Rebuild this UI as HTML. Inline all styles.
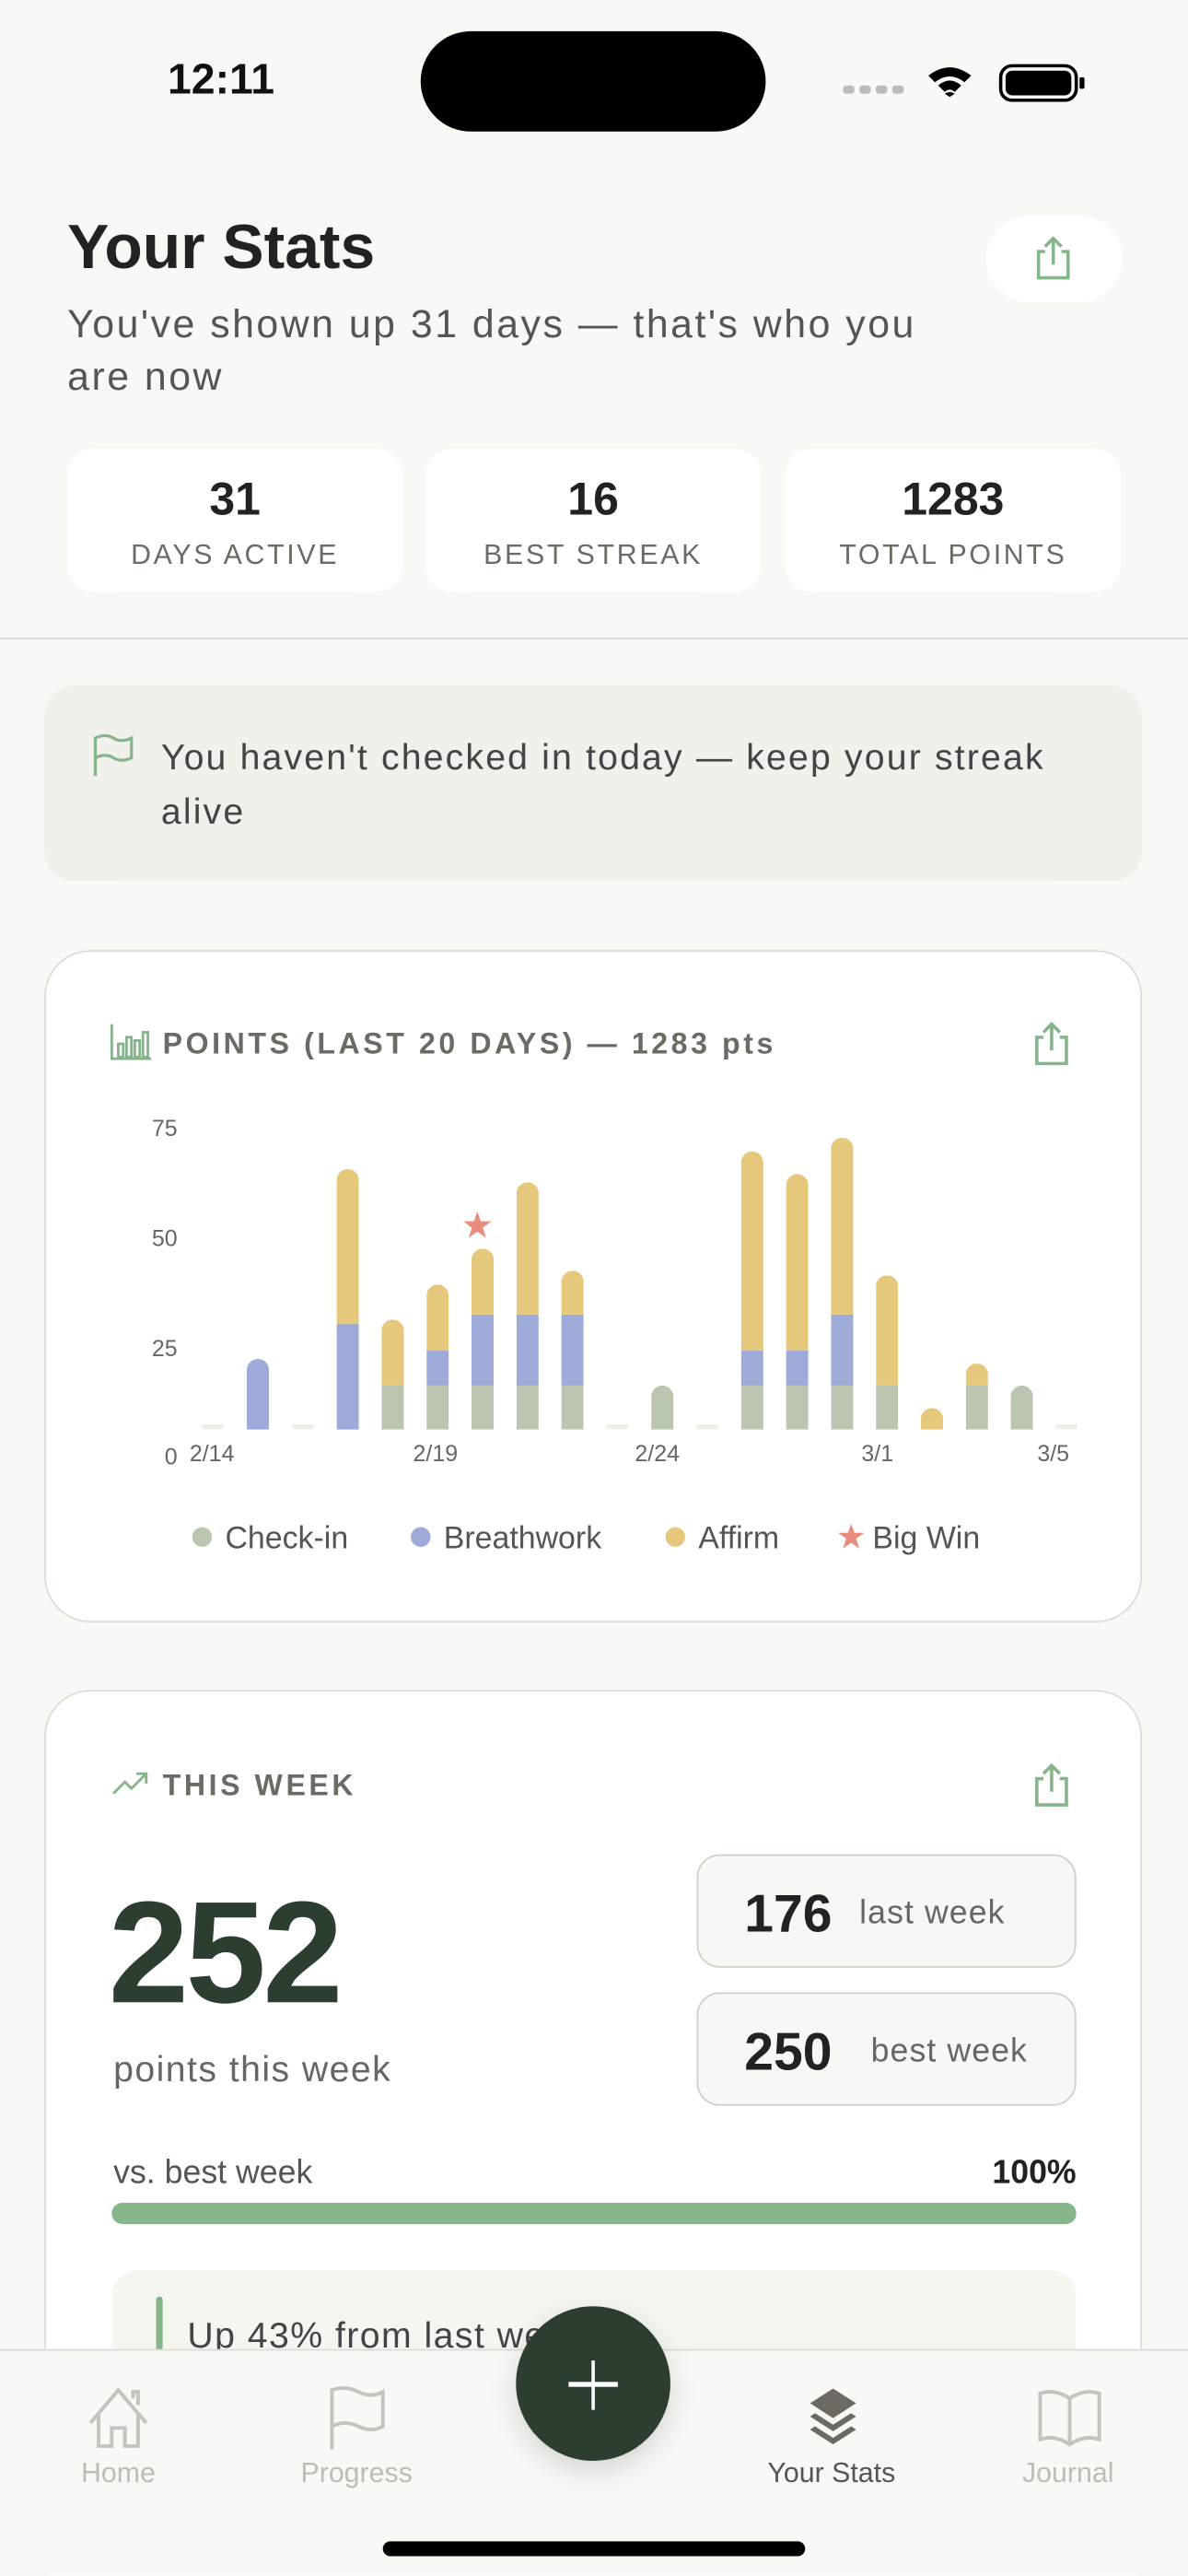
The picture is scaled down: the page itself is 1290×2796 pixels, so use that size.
<!DOCTYPE html>
<html><head><meta charset="utf-8"><style>
html,body{margin:0;padding:0;background:#f8f8f4;width:1290px;height:2796px;overflow:hidden;}
body{position:relative;}
#w{position:absolute;left:0;top:0;width:723px;height:1567px;overflow:hidden;transform:scale(1.78423);transform-origin:0 0;font-family:"Liberation Sans",sans-serif;color:#222;}
.a{position:absolute;white-space:nowrap;}
.card{position:absolute;background:#fff;}
.num{font-weight:bold;font-size:28px;line-height:28px;text-align:center;width:100%;top:17px;color:#222;}
.lbl{font-size:17px;line-height:17px;letter-spacing:1.5px;text-align:center;width:100%;top:56px;color:#6b6b63;}
</style></head><body><div id="w">
<!-- status bar -->
<div class="a" style="left:102px;top:35px;font-size:26px;line-height:26px;font-weight:bold;color:#111">12:11</div>
<div class="a" style="left:256px;top:19px;width:210px;height:61px;border-radius:31px;background:#000"></div>
<svg class="a" style="left:510px;top:36px" width="155" height="26" viewBox="0 0 155 26">
<g fill="#bbb"><rect x="3" y="16" width="7" height="5" rx="2"/><rect x="13" y="16" width="7" height="5" rx="2"/><rect x="23" y="16" width="7" height="5" rx="2"/><rect x="33" y="16" width="7" height="5" rx="2"/></g>
<path d="M55 10 Q68 0 81 10 L77 14 Q68 7 59 14Z M61 16 Q68 10 75 16 L71 20 Q68 17 65 20Z M68 23 L65 21 Q68 19 71 21Z" fill="#000"/>
<rect x="99" y="4" width="46" height="21" rx="7" fill="none" stroke="#000" stroke-width="2"/><rect x="102" y="7" width="40" height="15" rx="4" fill="#000"/><rect x="147" y="11" width="3" height="7" rx="1" fill="#000"/>
</svg>
<!-- header -->
<div class="a" style="left:41px;top:131px;font-size:38px;line-height:40px;font-weight:bold;color:#222">Your Stats</div>
<div class="a" style="left:41px;top:182px;font-size:24px;line-height:32px;letter-spacing:1.4px;color:#555;white-space:normal;width:525px">You've shown up 31 days — that's who you are now</div>
<div class="card" style="left:600px;top:131px;width:83px;height:53px;border-radius:27px"></div>
<svg class="a" style="left:628px;top:142px" width="26" height="30" viewBox="0 0 26 30"><g fill="none" stroke="#86b48b" stroke-width="2"><path d="M8 11 H4 V27 H22 V11 H18"/><path d="M13 3 V19 M8 8 L13 3 L18 8"/></g></svg>
<div class="card" style="left:41px;top:273px;width:204px;height:87px;border-radius:16px"><div class="a num">31</div><div class="a lbl">DAYS ACTIVE</div></div>
<div class="card" style="left:259px;top:273px;width:204px;height:87px;border-radius:16px"><div class="a num">16</div><div class="a lbl">BEST STREAK</div></div>
<div class="card" style="left:478px;top:273px;width:204px;height:87px;border-radius:16px"><div class="a num">1283</div><div class="a lbl">TOTAL POINTS</div></div>
<div class="a" style="left:0;top:388px;width:723px;height:1px;background:#dcdcd6"></div>
<!-- banner -->
<div class="a" style="left:27px;top:417px;width:668px;height:119px;border-radius:18px;background:#eff1ea"></div>
<svg class="a" style="left:55px;top:446px" width="28" height="28" viewBox="0 0 28 28"><path d="M3 26 V3 Q9 0 14 3 Q19 6 25 3 V15 Q19 18 14 15 Q9 12 3 15" fill="none" stroke="#86b48b" stroke-width="1.8"/></svg>
<div class="a" style="left:98px;top:444px;font-size:22px;line-height:33px;letter-spacing:1.2px;color:#444;white-space:normal;width:540px">You haven't checked in today — keep your streak alive</div>
<!-- chart card -->
<div class="card" style="left:27px;top:578px;width:666px;height:407px;border-radius:28px;border:1px solid #dcdcd6"></div>
<svg class="a" style="left:67px;top:622px" width="26" height="24" viewBox="0 0 26 24"><g fill="none" stroke="#86b48b" stroke-width="1.6"><path d="M1 1 V22 H25"/><rect x="5" y="13" width="3" height="8"/><rect x="10" y="9" width="3" height="12"/><rect x="15" y="11" width="3" height="10"/><rect x="20" y="6" width="3" height="15"/></g></svg>
<div class="a" style="left:99px;top:625px;font-size:18px;line-height:20px;letter-spacing:2px;color:#6b6b63;font-weight:bold">POINTS (LAST 20 DAYS) — 1283 pts</div>
<svg class="a" style="left:627px;top:620px" width="26" height="30" viewBox="0 0 26 30"><g fill="none" stroke="#86b48b" stroke-width="2"><path d="M8 11 H4 V27 H22 V11 H18"/><path d="M13 3 V19 M8 8 L13 3 L18 8"/></g></svg>
<svg class="a" style="left:0;top:0" width="723" height="1000" viewBox="0 0 723 1000">
<g font-family="Liberation Sans,sans-serif" font-size="14" fill="#666">
<text x="108" y="691" text-anchor="end">75</text><text x="108" y="758" text-anchor="end">50</text><text x="108" y="825" text-anchor="end">25</text><text x="108" y="891" text-anchor="end">0</text>
<text x="129" y="889" text-anchor="middle">2/14</text><text x="265" y="889" text-anchor="middle">2/19</text><text x="400" y="889" text-anchor="middle">2/24</text><text x="534" y="889" text-anchor="middle">3/1</text><text x="641" y="889" text-anchor="middle">3/5</text>
</g>
<g id="bars"></g>
<path d="M290.5 737 L292.6 743 L299 743 L293.8 746.8 L295.8 753 L290.5 749.2 L285.2 753 L287.2 746.8 L282 743 L288.4 743Z" fill="#e98c7c"/>
<g font-family="Liberation Sans,sans-serif" font-size="19" fill="#555">
<circle cx="123" cy="935" r="6" fill="#bcc5af"/><text x="137" y="942">Check-in</text>
<circle cx="256" cy="935" r="6" fill="#9eaad8"/><text x="270" y="942">Breathwork</text>
<circle cx="411" cy="935" r="6" fill="#e5c87c"/><text x="425" y="942">Affirm</text>
<path d="M518 927 L520 932.5 L526 932.5 L521 936 L523 942 L518 938.5 L513 942 L515 936 L510 932.5 L516 932.5Z" fill="#e98c7c"/><text x="531" y="942">Big Win</text>
</g>
</svg>
<!-- week card -->
<div class="card" style="left:27px;top:1028px;width:666px;height:600px;border-radius:28px;border:1px solid #dcdcd6"></div>
<svg class="a" style="left:68px;top:1076px" width="24" height="18" viewBox="0 0 24 18"><path d="M1 15 L8 8 L12 12 L21 3 M15 3 H21 V9" fill="none" stroke="#86b48b" stroke-width="1.6"/></svg>
<div class="a" style="left:99px;top:1076px;font-size:18px;line-height:20px;letter-spacing:2px;color:#6b6b63;font-weight:bold">THIS WEEK</div>
<svg class="a" style="left:627px;top:1071px" width="26" height="30" viewBox="0 0 26 30"><g fill="none" stroke="#86b48b" stroke-width="2"><path d="M8 11 H4 V27 H22 V11 H18"/><path d="M13 3 V19 M8 8 L13 3 L18 8"/></g></svg>
<div class="a" style="left:66px;top:1143px;font-size:88px;line-height:90px;font-weight:bold;color:#2c3e2f;letter-spacing:-2px">252</div>
<div class="a" style="left:69px;top:1247px;font-size:22px;line-height:24px;letter-spacing:0.8px;color:#666">points this week</div>
<div class="a" style="left:424px;top:1128px;width:229px;height:67px;border-radius:14px;background:#f7f7f3;border:1.5px solid #d0d0c8"></div>
<div class="a" style="left:453px;top:1147px;font-size:32px;line-height:34px;font-weight:bold;color:#222">176</div>
<div class="a" style="left:523px;top:1153px;font-size:20px;line-height:22px;letter-spacing:0.6px;color:#666">last week</div>
<div class="a" style="left:424px;top:1212px;width:229px;height:67px;border-radius:14px;background:#f7f7f3;border:1.5px solid #d0d0c8"></div>
<div class="a" style="left:453px;top:1231px;font-size:32px;line-height:34px;font-weight:bold;color:#222">250</div>
<div class="a" style="left:530px;top:1237px;font-size:20px;line-height:22px;letter-spacing:0.6px;color:#666">best week</div>
<div class="a" style="left:69px;top:1311px;font-size:20px;line-height:22px;color:#555">vs. best week</div>
<div class="a" style="left:560px;top:1311px;width:95px;text-align:right;font-size:20px;line-height:22px;color:#222;font-weight:bold">100%</div>
<div class="a" style="left:68px;top:1340px;width:587px;height:13px;border-radius:7px;background:#88b68b"></div>
<div class="a" style="left:68px;top:1381px;width:587px;height:120px;border-radius:16px;background:#f6f6f1"></div>
<div class="a" style="left:95px;top:1397px;width:4px;height:60px;border-radius:2px;background:#86b48b"></div>
<div class="a" style="left:114px;top:1409px;font-size:22px;line-height:24px;letter-spacing:0.8px;color:#444">Up 43% from last week</div>
<!-- tab bar -->
<div class="a" style="left:0;top:1429px;width:723px;height:138px;background:#f8f8f4;border-top:1px solid #dcdcd6"></div>
<div class="a" style="left:314px;top:1403px;width:94px;height:94px;border-radius:50%;background:#2c3e2f;box-shadow:0 6px 18px rgba(0,0,0,0.15)"></div>
<div class="a" style="left:346px;top:1449px;width:30px;height:2.5px;background:#fff"></div>
<div class="a" style="left:359.75px;top:1436px;width:2.5px;height:30px;background:#fff"></div>
<svg class="a" style="left:50px;top:1450px" width="44" height="40" viewBox="0 0 44 40"><path d="M5 24 L22 4 L39 24 M10 19 V38 H18 V27 H26 V38 H34 V19 M31 9 V5 H34 V13" fill="none" stroke="#c4c4be" stroke-width="2.2"/></svg>
<svg class="a" style="left:198px;top:1451px" width="40" height="40" viewBox="0 0 40 40"><path d="M4 39 V3 Q12 0 20 4 Q28 8 35 4 V25 Q28 29 20 25 Q12 21 4 25" fill="none" stroke="#c4c4be" stroke-width="2.2"/></svg>
<svg class="a" style="left:487px;top:1451px" width="40" height="40" viewBox="0 0 40 40"><g fill="#6b6b63"><path d="M20 2 L34 11 L20 20 L6 11Z"/><path d="M6 19 L9 17 L20 24 L31 17 L34 19 L20 28Z"/><path d="M6 27 L9 25 L20 32 L31 25 L34 27 L20 36Z"/></g></svg>
<svg class="a" style="left:630px;top:1451px" width="42" height="40" viewBox="0 0 42 40"><path d="M21 8 Q12 2 3 5 V33 Q12 30 21 36 Q30 30 39 33 V5 Q30 2 21 8 V36" fill="none" stroke="#c4c4be" stroke-width="2.2"/></svg>
<div class="a" style="left:22px;top:1496px;width:100px;text-align:center;font-size:17px;line-height:18px;color:#bdbdb6">Home</div>
<div class="a" style="left:167px;top:1496px;width:100px;text-align:center;font-size:17px;line-height:18px;color:#bdbdb6">Progress</div>
<div class="a" style="left:446px;top:1496px;width:120px;text-align:center;font-size:17px;line-height:18px;color:#555">Your Stats</div>
<div class="a" style="left:600px;top:1496px;width:100px;text-align:center;font-size:17px;line-height:18px;color:#bdbdb6">Journal</div>
<div class="a" style="left:233px;top:1546px;width:257px;height:9px;border-radius:5px;background:#000"></div>
</div>
<script>
(function(){
var G='#bcc5af',B='#9eaad8',Y='#e5c87c',base=869.6,gt=842.9;
var d=[null,[[B,826.7]],null,[[B,805.2],[Y,711.2]],[[G,gt],[Y,802.7]],[[G,gt],[B,821.6],[Y,781.4]],[[G,gt],[B,799.7],[Y,759.6]],[[G,gt],[B,799.7],[Y,719.2]],[[G,gt],[B,799.7],[Y,773]],null,[[G,gt]],null,[[G,gt],[B,821.6],[Y,700.5]],[[G,gt],[B,821.6],[Y,714.2]],[[G,gt],[B,799.7],[Y,692.1]],[[G,gt],[Y,775.8]],[[Y,856.5]],[[G,gt],[Y,829.5]],[[G,gt]],null];
var s='',w=13.5;
for(var i=0;i<20;i++){var cx=129.6+i*27.35,x=cx-w/2;
 if(!d[i]){s+='<rect x="'+x+'" y="866.5" width="'+w+'" height="3" rx="1.5" fill="#efefe8"/>';continue;}
 var segs=d[i],top=segs[segs.length-1][1];
 s+='<clipPath id="k'+i+'"><rect x="'+x+'" y="'+top+'" width="'+w+'" height="'+(base-top+10)+'" rx="'+(w/2)+'"/><\/clipPath><g clip-path="url(#k'+i+')">';
 var prev=base;
 for(var j=0;j<segs.length;j++){var t=segs[j][1];s+='<rect x="'+x+'" y="'+t+'" width="'+w+'" height="'+(prev-t)+'" fill="'+segs[j][0]+'"/>';prev=t;}
 s+='</g>';
}
document.getElementById('bars').innerHTML=s;
})();
</script>
</body></html>
